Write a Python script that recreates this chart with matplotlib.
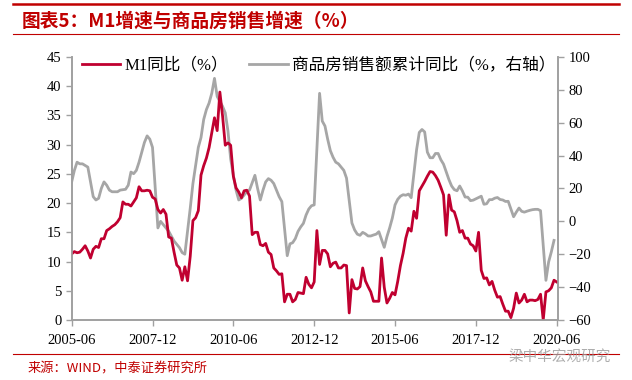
import matplotlib
matplotlib.use('Agg')
import matplotlib.pyplot as plt
from matplotlib.lines import Line2D
import numpy as np

# ------------------------------ 数据 ------------------------------
# 月度, 2005-06 ... 2020-06
m1_yoy = [11.3, 11.7, 11.5, 11.6, 12.1, 12.7, 11.8,
          10.6, 12.1, 12.6, 12.4, 13.9, 13.9, 15.3, 15.6, 16.0, 16.3, 16.8, 17.5,
          20.2, 19.8, 19.8, 19.5, 20.2, 20.9, 22.8, 22.1, 22.1, 22.2, 22.1, 21.0,
          20.7, 18.9, 18.3, 18.9, 18.1, 14.2, 14.0, 11.6, 9.4, 8.9, 6.8, 9.1,
          6.7, 10.9, 17.0, 17.5, 18.7, 24.8, 26.4, 27.7, 29.5, 32.0, 34.6, 32.4,
          39.0, 34.9, 29.9, 30.3, 29.9, 24.6, 22.6, 21.9, 20.9, 22.1, 22.2, 21.2,
          14.6, 15.0, 15.0, 12.9, 12.7, 13.1, 11.6, 11.2, 8.9, 8.4, 7.8, 7.9,
          3.1, 4.4, 4.4, 3.1, 3.5, 4.7, 4.6, 4.5, 7.3, 6.1, 5.5, 6.5,
          15.3, 9.5, 11.9, 11.9, 11.3, 9.1, 9.7, 9.9, 8.9, 8.9, 9.4, 9.3,
          1.2, 6.9, 5.4, 5.3, 5.7, 8.9, 6.7, 5.7, 4.8, 3.2, 3.2, 3.2,
          10.6, 5.6, 2.9, 3.7, 4.7, 4.3, 6.6, 9.3, 11.4, 14.0, 15.7, 15.2,
          18.6, 17.4, 22.1, 22.9, 23.7, 24.6, 25.4, 25.3, 24.7, 23.9, 22.7, 21.4,
          14.5, 21.4, 18.8, 18.5, 17.0, 15.0, 15.3, 14.0, 14.0, 13.0, 12.7, 11.8,
          15.0, 8.5, 7.1, 7.2, 6.0, 6.6, 5.1, 3.9, 4.0, 2.7, 1.5, 1.5,
          0.4, 2.0, 4.6, 2.9, 3.4, 4.4, 3.1, 3.4, 3.4, 3.3, 3.5, 4.4,
          0.0, 4.8, 5.0, 5.5, 6.8, 6.5]

nan = np.nan
# 商品房销售额累计同比, 2005-06 ... 2020-05 (1月无数据)
sales_yoy = [24, 31, 36, 35, 35, 34, 33,
             nan, 15, 13, 14, 20, 24, 22, 19, 18, 18, 18, 19,
             nan, 19.5, 22, 30, 29, 31, 36, 42, 48, 52, 50, 45,
             nan, -4, 0, -2, -4, -6, -9, -12, -14, -16, -19, -20,
             nan, 8, 23, 34, 45, 51, 62, 68, 72, 78, 87, 76,
             nan, 70, 66, 55, 38, 28, 19, 13, 14, 16, 18, 19,
             nan, 28, 20, 13, 19, 24, 26, 25, 23, 19, 15, 12,
             nan, -20.9, -13.7, -13.0, -10.5, -6.1, -3.4, -1.2, 3.9, 7.5, 9.5, 10.0,
             nan, 77.9, 61, 58, 50, 43, 39, 36, 35, 33, 31, 26.3,
             nan, -1, -5.2, -7.8, -8.5, -6.7, -7.6, -8.9, -8.9, -8.3, -7.8, -6.3,
             nan, -15.8, -9.3, -4, 2, 10, 13.4, 15.3, 16.2, 15.9, 16.6, 14.4,
             nan, 43.6, 54.1, 55.9, 54.4, 42.1, 38.7, 38.7, 41.3, 41.3, 37.5, 34.8,
             nan, 25.4, 21.5, 19.3, 18.6, 21.5, 18.5, 14.8, 14.7, 12.6, 12.9, 13.7,
             nan, 15.3, 10.4, 10.7, 13.2, 13.2, 14.1, 14.5, 13.3, 13.0, 12.1, 12.2,
             nan, 2.8, 5.6, 8.1, 6.1, 5.6, 6.2, 6.7, 7.1, 7.3, 7.3, 6.5,
             nan, -35.9, -24.7, -18.6, -11.6]

xtick_labels = ['2005-06', '2007-12', '2010-06', '2012-12', '2015-06', '2017-12', '2020-06']

RED = '#C00030'
GREY = '#A6A6A6'
AXC = '#A0A0A0'

serif_cjk = ['Liberation Serif', 'Noto Sans CJK SC']
plt.rcParams['font.family'] = serif_cjk
cjk = ['Noto Sans CJK SC', 'DejaVu Sans']

m1 = np.array(m1_yoy)
sales = np.array(sales_yoy, dtype=float)
x_m1 = np.arange(len(m1))
x_s = np.arange(len(sales))
ok = ~np.isnan(sales)

fig = plt.figure(figsize=(6.32, 3.8), dpi=100)
ax = fig.add_axes([0.1134, 0.158, 0.7696, 0.692])
ax2 = ax.twinx()

# M1 画在上层
ax.set_zorder(2)
ax.patch.set_visible(False)

l1, = ax.plot(x_m1, m1, color=RED, lw=2.0, label='M1同比（%）')
l2, = ax2.plot(x_s[ok], sales[ok], color=GREY, lw=2.0, label='商品房销售额累计同比（%，右轴）')

ax.set_xlim(0, 180.5)
ax.set_ylim(0, 45)
ax.set_yticks(range(0, 46, 5))
ax2.set_ylim(-60, 100)
ax2.set_yticks(range(-60, 101, 20))
ax.set_xticks(np.arange(0, 181, 30))
ax.set_xticklabels(xtick_labels)

for a in (ax, ax2):
    for s in a.spines.values():
        s.set_color(AXC)
        s.set_linewidth(1.2)
    a.spines['top'].set_visible(False)
    a.tick_params(colors=AXC, labelcolor='black', labelsize=10.5, length=4, width=1)
ax.tick_params(axis='x', pad=6)

ax.legend([l1, l2], [l1.get_label(), l2.get_label()], loc='upper left',
          bbox_to_anchor=(0.0, 1.035), ncol=2, frameon=False, fontsize=12,
          handlelength=2.3, handletextpad=0.25, columnspacing=1.3,
          borderaxespad=0.2)

# 标题与红线
fig.text(0.035, 0.945, '图表5：M1增速与商品房销售增速（%）', color='#C00000',
         fontsize=13.5, fontweight='bold', family=cjk, va='center', ha='left')
fig.add_artist(Line2D([0.02, 0.98], [0.99, 0.99], color='#C00000', lw=1.8))
fig.add_artist(Line2D([0.02, 0.98], [0.91, 0.91], color='#C00000', lw=0.8))
fig.add_artist(Line2D([0.02, 0.98], [0.068, 0.068], color='#C00000', lw=0.8))

fig.text(0.043, 0.028, '来源：WIND，中泰证券研究所', color='#C00000', fontsize=9.5,
         family=cjk, va='center', ha='left')
fig.text(0.805, 0.060, '梁中华宏观研究', color='#999999', fontsize=10.5,
         family=cjk, va='center', ha='left', alpha=0.8)

fig.savefig('out.png', dpi=100)
